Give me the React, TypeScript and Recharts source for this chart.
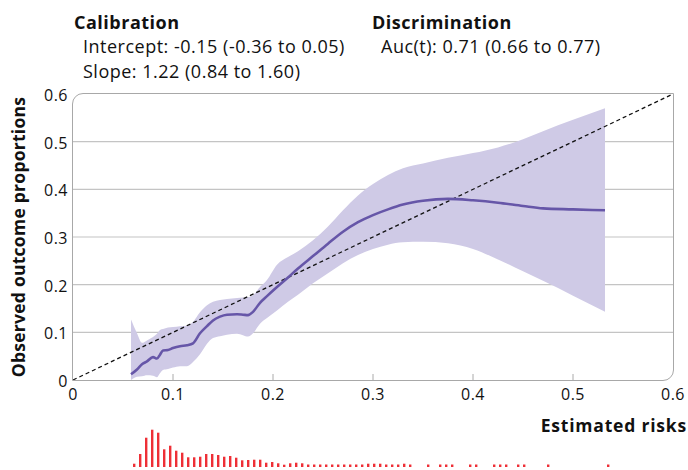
import React from 'react';
import { ComposedChart, BarChart, Bar, Area, Line, XAxis, YAxis, CartesianGrid, ReferenceLine } from 'recharts';

// calibration curve
const risk = [0.058, 0.064, 0.069, 0.074, 0.08, 0.084, 0.087, 0.09, 0.095, 0.1, 0.107, 0.114, 0.12, 0.127, 0.134, 0.14, 0.147, 0.154, 0.164, 0.17, 0.175, 0.18, 0.187, 0.194, 0.204, 0.215, 0.225, 0.24, 0.255, 0.27, 0.285, 0.3, 0.315, 0.33, 0.35, 0.375, 0.4, 0.425, 0.45, 0.47, 0.5, 0.532];
const observed = [0.012, 0.022, 0.033, 0.039, 0.048, 0.045, 0.053, 0.062, 0.063, 0.067, 0.071, 0.073, 0.077, 0.098, 0.113, 0.125, 0.133, 0.137, 0.138, 0.137, 0.136, 0.143, 0.162, 0.176, 0.195, 0.215, 0.234, 0.26, 0.286, 0.311, 0.331, 0.346, 0.358, 0.368, 0.376, 0.38, 0.377, 0.372, 0.365, 0.36, 0.358, 0.356];
const lower = [0.0, 0.007, 0.008, 0.01, 0.009, 0.006, 0.014, 0.021, 0.023, 0.026, 0.029, 0.029, 0.038, 0.054, 0.076, 0.088, 0.092, 0.095, 0.097, 0.094, 0.091, 0.098, 0.118, 0.13, 0.146, 0.164, 0.179, 0.203, 0.224, 0.245, 0.262, 0.275, 0.284, 0.289, 0.29, 0.287, 0.275, 0.253, 0.228, 0.208, 0.177, 0.143];
const upper = [0.127, 0.098, 0.078, 0.083, 0.09, 0.097, 0.105, 0.107, 0.11, 0.111, 0.113, 0.114, 0.122, 0.142, 0.157, 0.164, 0.168, 0.17, 0.172, 0.173, 0.174, 0.178, 0.195, 0.21, 0.242, 0.258, 0.27, 0.293, 0.322, 0.356, 0.387, 0.411, 0.43, 0.444, 0.454, 0.466, 0.476, 0.488, 0.505, 0.522, 0.546, 0.57];

const axisTicks = [0, 0.1, 0.2, 0.3, 0.4, 0.5, 0.6];

// distribution of estimated risks (rug histogram)
const binRisk = [0.061, 0.067, 0.073, 0.079, 0.085, 0.091, 0.097, 0.103, 0.109, 0.115, 0.121, 0.127, 0.133, 0.139, 0.145, 0.151, 0.157, 0.163, 0.169, 0.175, 0.181, 0.187, 0.193, 0.199, 0.205, 0.211, 0.217, 0.223, 0.229, 0.235, 0.241, 0.247, 0.253, 0.259, 0.265, 0.271, 0.277, 0.283, 0.289, 0.295, 0.301, 0.307, 0.313, 0.319, 0.325, 0.331, 0.337, 0.355, 0.367, 0.373, 0.379, 0.397, 0.403, 0.421, 0.427, 0.433, 0.445, 0.451, 0.475, 0.535];
const binCount = [3.3, 13, 29.3, 37.3, 34.3, 17.7, 21.3, 16.3, 14.3, 9.7, 9.7, 10.3, 13, 13, 12, 10.3, 11, 9.3, 6.7, 7, 7.3, 7.3, 4.3, 5, 3.7, 2.3, 3.7, 4.3, 3.7, 2.5, 2.5, 2.5, 2.5, 2.5, 2.5, 2.5, 2.5, 2.5, 2.5, 3.3, 3.3, 3.3, 2.5, 2.5, 2.5, 3.3, 2.5, 2.5, 2.5, 2.5, 2.5, 2.5, 2.5, 2.5, 2.5, 2.5, 2.5, 2.5, 2.5, 2.5];

const curveData = risk.map((r, i) => ({ risk: r, obs: observed[i], lo: lower[i], hi: upper[i] }));
const histData = binRisk.map((r, i) => ({ risk: r, n: binCount[i] }));

const FONT = '"Open Sans", "Noto Sans", sans-serif';

const fmt = (v: number) => (v === 0 ? '0' : v.toFixed(1));

const YTick = (props: any) => {
  const { x, y, payload } = props;
  return (
    <text x={x - 5} y={y + 1} textAnchor="end" dominantBaseline="central" fontSize={16} letterSpacing={0.5} fill="#111" fontFamily={FONT}>
      {fmt(payload.value)}
    </text>
  );
};

const XTick = (props: any) => {
  const { x, y, payload } = props;
  const inner = payload.value > 0 && payload.value < 0.6;
  return (
    <g>
      {inner && <line x1={x} x2={x} y1={y} y2={y - 6} stroke="#aaa" strokeWidth={1} />}
      <text x={x} y={y + 14} textAnchor="middle" dominantBaseline="central" fontSize={16} letterSpacing={0.5} fill="#111" fontFamily={FONT}>
        {fmt(payload.value)}
      </text>
    </g>
  );
};

const textStyle: React.CSSProperties = { position: 'absolute', fontFamily: FONT, fontSize: 18, color: '#111', whiteSpace: 'nowrap', lineHeight: '24px', letterSpacing: 0.5 };

export default function App() {
  return (
    <div style={{ position: 'absolute', left: 0, top: 0, width: 688, height: 470, background: '#fff' }}>
      <div style={{ ...textStyle, left: 74, top: 10, fontWeight: 700, letterSpacing: 0.5 }}>Calibration</div>
      <div style={{ ...textStyle, left: 83, top: 34 }}>Intercept: -0.15 (-0.36 to 0.05)</div>
      <div style={{ ...textStyle, left: 83, top: 59 }}>Slope: 1.22 (0.84 to 1.60)</div>
      <div style={{ ...textStyle, left: 372, top: 10, fontWeight: 700, letterSpacing: 0.5 }}>Discrimination</div>
      <div style={{ ...textStyle, left: 381, top: 34 }}>Auc(t): 0.71 (0.66 to 0.77)</div>

      <div style={{ position: 'absolute', left: 0, top: 0 }}>
        <ComposedChart width={688} height={410} data={curveData} margin={{ top: 94, right: 15, bottom: 0, left: 0 }}>
          <CartesianGrid horizontal vertical={false} horizontalValues={[0.1, 0.2, 0.3, 0.4, 0.5]} stroke="#c4c4c4" strokeWidth={1.2} />
          <XAxis dataKey="risk" type="number" domain={[0, 0.6]} ticks={axisTicks} axisLine={false} tickLine={false} tickSize={0} tickMargin={0} height={30} tick={<XTick />} interval={0} />
          <YAxis type="number" domain={[0, 0.6]} ticks={axisTicks} axisLine={false} tickLine={false} tickSize={0} tickMargin={0} width={73} tick={<YTick />} interval={0} />
          <Area dataKey={(d: any) => [d.lo, d.hi]} type="monotone" stroke="none" fill="#cfcae6" fillOpacity={1} isAnimationActive={false} />
          <ReferenceLine segment={[{ x: 0, y: 0 }, { x: 0.6, y: 0.6 }]} stroke="#111" strokeWidth={1.3} strokeDasharray="4 3" />
          <Line dataKey="obs" type="monotone" stroke="#6656a8" strokeWidth={2.6} dot={false} isAnimationActive={false} />
        </ComposedChart>
      </div>

      <div style={{ position: 'absolute', left: 72, top: 93, width: 602, height: 288, boxSizing: 'border-box', border: '1.5px solid #a8a8a8', borderRadius: '11px 0 11px 0', pointerEvents: 'none' }} />

      <div style={{ ...textStyle, left: 18, top: 237, fontSize: 17.5, fontWeight: 700, letterSpacing: 0.25, transform: 'translate(-50%, -50%) rotate(-90deg)' }}>Observed outcome proportions</div>
      <div style={{ ...textStyle, right: 1, top: 413, fontSize: 17.5, fontWeight: 700, letterSpacing: 0.8 }}>Estimated risks</div>

      <div style={{ position: 'absolute', left: 0, top: 427 }}>
        <BarChart width={688} height={40} data={histData} margin={{ top: 0, right: 15, bottom: 0, left: 73 }}>
          <XAxis dataKey="risk" type="number" domain={[0, 0.6]} hide />
          <YAxis type="number" domain={[0, 40]} hide />
          <Bar dataKey="n" fill="#ee2f36" barSize={2.4} isAnimationActive={false} />
        </BarChart>
      </div>
    </div>
  );
}
